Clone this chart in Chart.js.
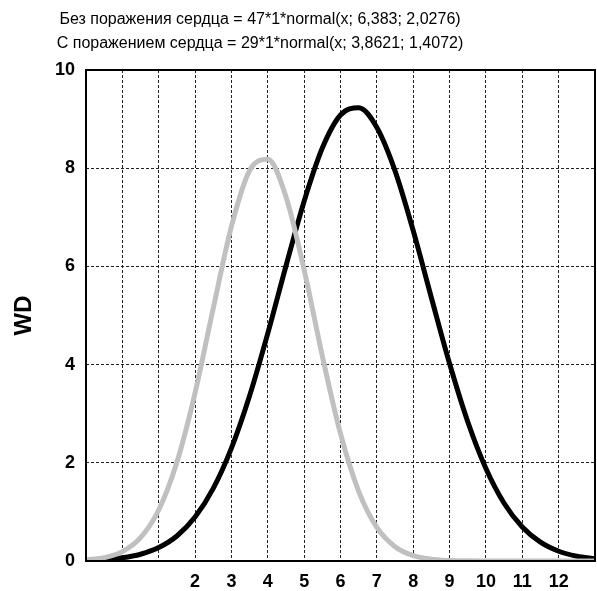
<!DOCTYPE html>
<html>
<head>
<meta charset="utf-8">
<script src="https://cdn.jsdelivr.net/npm/chart.js@4"></script>
<style>
html,body{margin:0;padding:0;background:#fff;}
#wrap{width:597px;height:591px;position:relative;}
</style>
</head>
<body>
<div id="wrap"><canvas id="c" width="597" height="591"></canvas></div>
<script>
const titleLines = [
  "Без поражения сердца = 47*1*normal(x; 6,383; 2,0276)",
  "С поражением сердца = 29*1*normal(x; 3,8621; 1,4072)"
];
const yAxisTitle = "WD";
const seriesNames = ["С поражением сердца", "Без поражения сердца"];

const xValues = [-1,-0.5,0,0.5,1,1.5,2,2.5,3,3.5,4,4.5,5,5.5,6,6.5,7,7.5,8,8.5,9,9.5,10,10.5,11,11.5,12,12.5,13];

const withDamage = [0.021,0.067,0.190,0.474,1.039,2.010,3.425,5.146,6.815,7.954,8.182,7.419,5.929,4.176,2.593,1.419,0.684,0.291,0.109,0.036,0.0105,0.0027,0.0006,0.0001,0,0,0,0,0];

const withoutDamage = [0.012,0.029,0.065,0.137,0.273,0.509,0.894,1.478,2.299,3.365,4.635,6.008,7.328,8.411,9.084,9.232,8.829,7.946,6.728,5.362,4.021,2.837,1.884,1.177,0.692,0.383,0.199,0.098,0.045];

const xTickLabels = [2,3,4,5,6,7,8,9,10,11,12];
const yTickLabels = [0,2,4,6,8,10];

function toPoints(ys){ return xValues.map((x,i)=>({x:x,y:ys[i]})); }

const frameAndTitle = {
  id:'frameAndTitle',
  afterDraw(chart){
    const ctx = chart.ctx, a = chart.chartArea;
    ctx.save();
    ctx.strokeStyle = '#000';
    ctx.lineWidth = 2;
    ctx.setLineDash([]);
    ctx.strokeRect(a.left, a.top, a.right - a.left, a.bottom - a.top);
    ctx.fillStyle = '#000';
    ctx.font = '16px "Liberation Sans", Arial, sans-serif';
    ctx.textAlign = 'center';
    ctx.textBaseline = 'middle';
    ctx.fillText(titleLines[0], 260, 20);
    ctx.fillText(titleLines[1], 260, 44);
    ctx.restore();
  }
};

new Chart(document.getElementById('c'), {
  type:'line',
  data:{
    datasets:[
      {label:seriesNames[0], data:toPoints(withDamage), borderColor:'#c0c0c0', borderWidth:5, pointRadius:0, fill:false, cubicInterpolationMode:'monotone'},
      {label:seriesNames[1], data:toPoints(withoutDamage), borderColor:'#000000', borderWidth:5, pointRadius:0, fill:false, cubicInterpolationMode:'monotone'}
    ]
  },
  options:{
    responsive:false,
    animation:false,
    layout:{padding:{top:70,right:2,left:0,bottom:0}},
    plugins:{legend:{display:false}, tooltip:{enabled:false}, title:{display:false}},
    scales:{
      x:{
        type:'linear', min:-1, max:13,
        afterFit(s){ s.height = 30; s.paddingRight = 0; s.paddingLeft = 0; },
        ticks:{
          stepSize:1, autoSkip:false, maxRotation:0, padding:10,
          color:'#000',
          font:{family:'"Liberation Sans", Arial, sans-serif', size:18, weight:'bold'},
          callback(v){ return xTickLabels.includes(v) ? String(v) : ''; }
        },
        grid:{color:'#222', lineWidth:1, drawTicks:false},
        border:{display:false, dash:[3,2]}
      },
      y:{
        min:0, max:10,
        afterFit(s){ s.width = 86; },
        ticks:{
          stepSize:2, padding:11,
          color:'#000',
          font:{family:'"Liberation Sans", Arial, sans-serif', size:18, weight:'bold'},
          callback(v){ return yTickLabels.includes(v) ? String(v) : ''; }
        },
        title:{display:false},
        grid:{color:'#222', lineWidth:1, drawTicks:false},
        border:{display:false, dash:[3,2]}
      }
    }
  },
  plugins:[frameAndTitle, {
    id:'yTitle',
    afterDraw(chart){
      const ctx = chart.ctx, a = chart.chartArea;
      ctx.save();
      ctx.translate(24, (a.top + a.bottom)/2);
      ctx.rotate(-Math.PI/2);
      ctx.font = 'bold 24px "Liberation Sans", Arial, sans-serif';
      ctx.fillStyle = '#000';
      ctx.textAlign = 'center';
      ctx.textBaseline = 'middle';
      ctx.fillText(yAxisTitle, 0, 0);
      ctx.restore();
    }
  }]
});
</script>
</body>
</html>
